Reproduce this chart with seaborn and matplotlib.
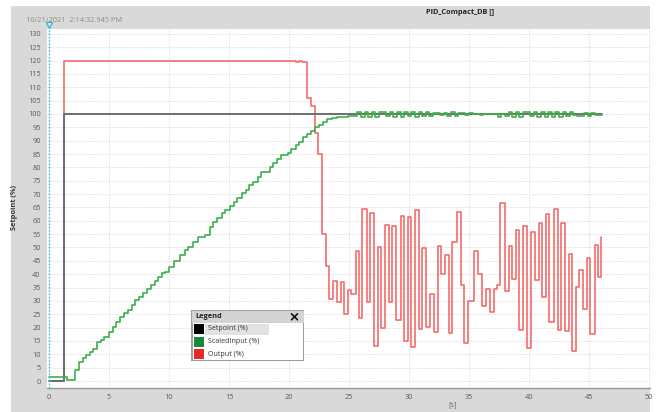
import matplotlib
matplotlib.use("Agg")
import matplotlib.pyplot as plt
import pandas as pd
import seaborn as sns
from matplotlib.patches import Rectangle
from matplotlib.lines import Line2D
from matplotlib.ticker import MultipleLocator

sns.set_style("white")
plt.rcParams['font.family'] = ['Open Sans', 'DejaVu Sans']

# ---- trend data (time in s, value in %) ----
setpoint_t = [0.0, 1.25, 46.05]
setpoint_v = [0.0, 100.0, 100.0]

scaled_t = [0.0, 1.5, 2.2, 2.5, 2.8, 3.1, 3.4, 3.7, 4.0, 4.3, 4.6, 5.0, 5.3, 5.6,
            5.95, 6.25, 6.6, 6.9, 7.2, 7.5, 7.85, 8.15, 8.5, 8.8, 9.1, 9.4, 9.7,
            10.0, 10.4, 10.9, 11.3, 11.6, 12.0, 12.4, 13.0, 13.4, 13.7, 14.0,
            14.4, 14.7, 15.1, 15.4, 15.7, 16.1, 16.4, 16.7, 17.0, 17.4, 17.7,
            18.05, 18.4, 18.7, 19.0, 19.3, 19.9, 20.2, 20.55, 20.85, 21.2, 21.5,
            21.8, 22.2, 22.5, 22.8, 23.2, 23.6,
            24.0, 24.9, 25.7, 26.0, 26.3, 26.6, 26.9, 27.2, 27.5, 28.1, 28.4,
            28.7, 29.0, 29.3, 29.6, 29.9, 30.2, 30.5, 30.8, 31.1, 31.4, 31.7,
            32.0, 32.6, 32.9, 33.2, 33.5, 33.8, 34.1, 34.7, 35.0, 35.3, 35.9,
            36.2, 37.4, 37.7, 38.0, 38.3, 38.6, 38.9, 39.2, 39.5, 40.1, 40.4,
            40.7, 41.0, 41.3, 41.6, 41.9, 42.2, 42.5, 42.8, 43.1, 43.4, 43.7,
            44.0, 44.6, 44.9, 45.2, 45.5, 46.05]
scaled_v = [1.6, 0.4, 4.1, 7.2, 8.6, 9.7, 11.0, 12.0, 14.7, 15.5, 16.6, 18.5,
            20.3, 22.2, 24.0, 25.4, 26.6, 28.5, 30.3, 31.6, 32.8, 34.3, 36.0,
            37.5, 39.0, 40.3, 41.0, 42.8, 45.0, 47.2, 49.0, 50.3, 52.2, 54.0,
            54.7, 57.8, 59.7, 60.9, 62.8, 64.0, 65.5, 67.2, 68.4, 70.3, 71.5,
            73.4, 74.6, 76.5, 78.1, 78.4, 80.3, 81.5, 83.0, 84.6, 85.3, 86.9,
            88.4, 89.6, 91.3, 92.5, 93.7, 95.0, 96.0, 97.1, 98.0, 98.6,
            99.0, 99.4, 100.6, 99.0, 100.6, 99.0, 100.6, 99.0, 100.6, 99.2,
            100.6, 99.0, 100.6, 99.0, 100.6, 99.2, 100.6, 99.0, 100.6, 99.2,
            100.6, 99.4, 100.2, 99.5, 100.4, 99.4, 100.6, 99.4, 100.2, 99.6,
            100.3, 99.8, 99.6, 100.0, 99.0, 99.9, 99.1, 100.6, 99.0, 100.6,
            99.0, 100.6, 99.2, 100.6, 99.0, 100.6, 99.0, 100.6, 99.0, 100.6,
            99.0, 100.6, 99.4, 100.6, 99.6, 99.4, 100.5, 99.4, 100.3, 99.5,
            99.5]

output_t = [0.0, 1.25, 20.6, 20.85, 21.1, 21.5, 21.8, 22.15, 22.4, 22.75,
            23.05, 23.35, 23.7, 24.0, 24.3, 24.6, 24.9, 25.2, 25.55, 25.8,
            26.1, 26.5, 26.75, 27.05, 27.4, 27.7, 28.0, 28.3, 28.6, 28.9,
            29.3, 29.6, 29.9, 30.2, 30.5, 30.8, 31.1, 31.4, 31.75, 32.05,
            32.4, 32.7, 33.0, 33.3, 33.6, 34.0, 34.3, 34.6, 34.9, 35.4,
            35.75, 36.1, 36.4, 36.75, 37.05, 37.3, 37.6, 38.0, 38.3, 38.6,
            38.9, 39.2, 39.5, 39.8, 40.2, 40.5, 40.8, 41.1, 41.4, 41.7,
            42.05, 42.4, 42.7, 43.0, 43.3, 43.6, 43.95, 44.2, 44.5, 44.8,
            45.1, 45.5, 45.75, 46.0]
output_v = [0.0, 120.0, 119.4, 120.0, 119.4, 106.0, 103.0, 93.0, 85.0, 55.0,
            43.0, 30.7, 37.5, 29.7, 37.2, 25.0, 34.0, 32.7, 48.7, 23.5,
            64.4, 29.5, 62.8, 13.1, 50.0, 19.7, 58.4, 29.5, 58.2, 22.8,
            61.8, 15.1, 61.3, 12.6, 64.2, 19.5, 49.7, 20.3, 32.6, 18.5,
            50.6, 40.0, 47.2, 17.9, 52.0, 63.2, 36.0, 14.4, 30.0, 48.7,
            40.0, 28.1, 34.3, 25.7, 34.5, 36.0, 66.5, 33.8, 50.7, 38.2,
            56.6, 19.1, 58.0, 12.2, 55.7, 37.8, 59.0, 31.6, 62.5, 22.2,
            64.3, 19.1, 59.0, 18.8, 47.4, 11.4, 35.3, 41.6, 27.0, 46.2,
            17.6, 50.9, 39.0, 54.0]

legend_labels = ['Setpoint (%)', 'ScaledInput (%)', 'Output (%)']
legend_colors = ['#000000', '#168a3c', '#ec2727']

x_ticks = list(range(0, 51, 5))
y_ticks = list(range(0, 131, 5))

# ---- figure frame ----
W, H = 657, 412
fig = plt.figure(figsize=(W / 100, H / 100), dpi=100)
fig.patch.set_facecolor('white')
fig.add_artist(Rectangle((11 / W, 0), 639 / W, 406 / H, transform=fig.transFigure,
                         facecolor='#d9d9d9', edgecolor='none', zorder=-5))

ax = fig.add_axes([47 / W, 1 - 388 / H, 603 / W, 359 / H])
ax.set_facecolor('white')

sp = pd.DataFrame({'t': setpoint_t, 'v': setpoint_v})
si = pd.DataFrame({'t': scaled_t, 'v': scaled_v})
op = pd.DataFrame({'t': output_t, 'v': output_v})

sns.lineplot(data=op, x='t', y='v', ax=ax, drawstyle='steps-post', sort=False,
             estimator=None, color='#f36d6d', lw=1.2, zorder=3)
sns.lineplot(data=sp, x='t', y='v', ax=ax, drawstyle='steps-post', sort=False,
             estimator=None, color='#6e6e6e', lw=1.4, zorder=4)
sns.lineplot(data=si, x='t', y='v', ax=ax, drawstyle='steps-post', sort=False,
             estimator=None, color='#3daf4c', lw=1.2, zorder=5)

ax.set_xlim(-0.17, 50.08)
ax.set_ylim(-2.6, 131.8)
ax.set_xticks(x_ticks)
ax.set_yticks(y_ticks)
ax.yaxis.set_minor_locator(MultipleLocator(1))
ax.tick_params(which='major', labelsize=5.3, labelcolor='#5a5a5a', color='#8a8a8a',
               length=3, width=0.6, direction='out', pad=1.5)
ax.tick_params(axis='y', which='minor', length=1.5, width=0.4, color='#a0a0a0',
               direction='out')
ax.set_xlabel('')
ax.set_ylabel('')
ax.grid(True, which='major', color='#e6e6e6', linestyle=(0, (2, 1)), lw=0.7, zorder=0)
for side in ('top', 'right', 'left'):
    ax.spines[side].set_visible(False)
ax.spines['bottom'].set_color('#999999')
ax.spines['bottom'].set_linewidth(1.0)

# time cursor at t = 0
ax.axvline(0, color='#3cc3df', ls=(0, (1.2, 1.2)), lw=1.0, zorder=6)
ax.plot([0], [133.4], marker='v', ms=5, mfc='#dff5fa', mec='#2bb5d1', mew=0.9,
        clip_on=False, zorder=7)

# ---- header and axis texts ----
fig.text(26 / W, 1 - 20 / H, '10/21/2021  2:14:32.945 PM', fontsize=5.3,
         color='#8a8a8a', va='center', ha='left')
fig.text(460 / W, 1 - 12 / H, 'PID_Compact_DB []', fontsize=5.3, fontweight='bold',
         color='#222222', ha='center', va='center')
fig.text(15 / W, 1 - 207 / H, 'Setpoint (%)', rotation=90, fontsize=5.3,
         fontweight='bold', color='#3a3a3a', ha='center', va='center')
fig.text(453 / W, 1 - 405 / H, '[s]', fontsize=5.3, color='#666666',
         ha='center', va='center')

# ---- legend window ----
lax = fig.add_axes([191 / W, 1 - 361 / H, 113 / W, 51 / H])
lax.set_xlim(0, 113)
lax.set_ylim(51, 0)
lax.axis('off')
lax.add_patch(Rectangle((0.5, 0.5), 112, 50, facecolor='white', edgecolor='#9c9c9c', lw=1.4))
lax.add_patch(Rectangle((0.5, 0.5), 112, 12.5, facecolor='#d3d3d3', edgecolor='none'))
lax.text(4, 6.8, 'Legend', fontsize=5.3, fontweight='bold', color='#222222', va='center')
lax.add_line(Line2D([100.5, 106.5], [3.8, 9.8], color='#111111', lw=1.2))
lax.add_line(Line2D([100.5, 106.5], [9.8, 3.8], color='#111111', lw=1.2))
lax.add_patch(Rectangle((14, 13.5), 64, 11, facecolor='#e2e2e2', edgecolor='none'))
for i, (lab, col) in enumerate(zip(legend_labels, legend_colors)):
    yc = 19 + i * 12.5
    lax.add_patch(Rectangle((3, yc - 5), 10, 10, facecolor=col, edgecolor='none'))
    lax.text(16.5, yc, lab, fontsize=5.1, color='#333333', va='center')

fig.savefig('out.png', dpi=100)
